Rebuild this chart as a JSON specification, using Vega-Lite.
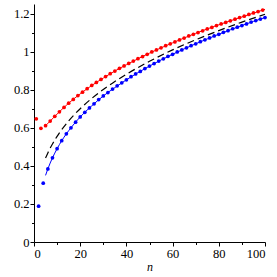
{
  "$schema": "https://vega.github.io/schema/vega-lite/v6.json",
  "width": 231,
  "height": 238,
  "autosize": "none",
  "padding": {"left": 34, "top": 4, "right": 12, "bottom": 35},
  "background": "white",
  "config": {
    "font": "Liberation Serif",
    "view": {"stroke": null},
    "axis": {"grid": false, "domainColor": "black", "tickColor": "black", "labelColor": "black", "titleColor": "black", "labelFont": "Liberation Serif", "titleFont": "Liberation Serif", "labelFontSize": 12.5, "domainWidth": 1, "tickWidth": 1}
  },
  "datasets": {
    "pts": [
      {"n":1,"y":0.647,"s":"odd"},{"n":3,"y":0.597,"s":"odd"},{"n":5,"y":0.611,"s":"odd"},{"n":7,"y":0.635,"s":"odd"},{"n":9,"y":0.660,"s":"odd"},
      {"n":11,"y":0.684,"s":"odd"},{"n":13,"y":0.707,"s":"odd"},{"n":15,"y":0.729,"s":"odd"},{"n":17,"y":0.749,"s":"odd"},{"n":19,"y":0.769,"s":"odd"},
      {"n":21,"y":0.787,"s":"odd"},{"n":23,"y":0.805,"s":"odd"},{"n":25,"y":0.822,"s":"odd"},{"n":27,"y":0.838,"s":"odd"},{"n":29,"y":0.854,"s":"odd"},
      {"n":31,"y":0.869,"s":"odd"},{"n":33,"y":0.884,"s":"odd"},{"n":35,"y":0.898,"s":"odd"},{"n":37,"y":0.912,"s":"odd"},{"n":39,"y":0.925,"s":"odd"},
      {"n":41,"y":0.938,"s":"odd"},{"n":43,"y":0.950,"s":"odd"},{"n":45,"y":0.963,"s":"odd"},{"n":47,"y":0.974,"s":"odd"},{"n":49,"y":0.986,"s":"odd"},
      {"n":51,"y":0.998,"s":"odd"},{"n":53,"y":1.009,"s":"odd"},{"n":55,"y":1.020,"s":"odd"},{"n":57,"y":1.031,"s":"odd"},{"n":59,"y":1.041,"s":"odd"},
      {"n":61,"y":1.051,"s":"odd"},{"n":63,"y":1.061,"s":"odd"},{"n":65,"y":1.071,"s":"odd"},{"n":67,"y":1.082,"s":"odd"},{"n":69,"y":1.091,"s":"odd"},
      {"n":71,"y":1.100,"s":"odd"},{"n":73,"y":1.109,"s":"odd"},{"n":75,"y":1.119,"s":"odd"},{"n":77,"y":1.127,"s":"odd"},{"n":79,"y":1.137,"s":"odd"},
      {"n":81,"y":1.145,"s":"odd"},{"n":83,"y":1.153,"s":"odd"},{"n":85,"y":1.162,"s":"odd"},{"n":87,"y":1.170,"s":"odd"},{"n":89,"y":1.179,"s":"odd"},
      {"n":91,"y":1.186,"s":"odd"},{"n":93,"y":1.195,"s":"odd"},{"n":95,"y":1.203,"s":"odd"},{"n":97,"y":1.210,"s":"odd"},{"n":99,"y":1.218,"s":"odd"},
      {"n":2,"y":0.188,"s":"even"},{"n":4,"y":0.309,"s":"even"},{"n":6,"y":0.384,"s":"even"},{"n":8,"y":0.442,"s":"even"},{"n":10,"y":0.490,"s":"even"},
      {"n":12,"y":0.532,"s":"even"},{"n":14,"y":0.568,"s":"even"},{"n":16,"y":0.600,"s":"even"},{"n":18,"y":0.629,"s":"even"},{"n":20,"y":0.657,"s":"even"},
      {"n":22,"y":0.681,"s":"even"},{"n":24,"y":0.704,"s":"even"},{"n":26,"y":0.726,"s":"even"},{"n":28,"y":0.748,"s":"even"},{"n":30,"y":0.767,"s":"even"},
      {"n":32,"y":0.785,"s":"even"},{"n":34,"y":0.803,"s":"even"},{"n":36,"y":0.820,"s":"even"},{"n":38,"y":0.836,"s":"even"},{"n":40,"y":0.852,"s":"even"},
      {"n":42,"y":0.868,"s":"even"},{"n":44,"y":0.883,"s":"even"},{"n":46,"y":0.896,"s":"even"},{"n":48,"y":0.911,"s":"even"},{"n":50,"y":0.924,"s":"even"},
      {"n":52,"y":0.937,"s":"even"},{"n":54,"y":0.950,"s":"even"},{"n":56,"y":0.962,"s":"even"},{"n":58,"y":0.975,"s":"even"},{"n":60,"y":0.986,"s":"even"},
      {"n":62,"y":0.998,"s":"even"},{"n":64,"y":1.009,"s":"even"},{"n":66,"y":1.020,"s":"even"},{"n":68,"y":1.031,"s":"even"},{"n":70,"y":1.041,"s":"even"},
      {"n":72,"y":1.052,"s":"even"},{"n":74,"y":1.062,"s":"even"},{"n":76,"y":1.072,"s":"even"},{"n":78,"y":1.082,"s":"even"},{"n":80,"y":1.091,"s":"even"},
      {"n":82,"y":1.101,"s":"even"},{"n":84,"y":1.110,"s":"even"},{"n":86,"y":1.120,"s":"even"},{"n":88,"y":1.128,"s":"even"},{"n":90,"y":1.137,"s":"even"},
      {"n":92,"y":1.145,"s":"even"},{"n":94,"y":1.155,"s":"even"},{"n":96,"y":1.163,"s":"even"},{"n":98,"y":1.171,"s":"even"},{"n":100,"y":1.179,"s":"even"}
    ],
    "lines": [
      {"n":5,"y":0.611,"s":"red"},{"n":7,"y":0.635,"s":"red"},{"n":9,"y":0.660,"s":"red"},{"n":11,"y":0.684,"s":"red"},{"n":13,"y":0.707,"s":"red"},{"n":15,"y":0.729,"s":"red"},{"n":20,"y":0.778,"s":"red"},{"n":25,"y":0.822,"s":"red"},{"n":30,"y":0.861,"s":"red"},{"n":35,"y":0.898,"s":"red"},{"n":40,"y":0.931,"s":"red"},{"n":50,"y":0.992,"s":"red"},{"n":60,"y":1.046,"s":"red"},{"n":70,"y":1.096,"s":"red"},{"n":80,"y":1.141,"s":"red"},{"n":90,"y":1.182,"s":"red"},{"n":100,"y":1.222,"s":"red"},
      {"n":5,"y":0.350,"s":"blue"},{"n":6,"y":0.384,"s":"blue"},{"n":8,"y":0.442,"s":"blue"},{"n":10,"y":0.490,"s":"blue"},{"n":12,"y":0.532,"s":"blue"},{"n":14,"y":0.568,"s":"blue"},{"n":16,"y":0.600,"s":"blue"},{"n":20,"y":0.657,"s":"blue"},{"n":25,"y":0.715,"s":"blue"},{"n":30,"y":0.767,"s":"blue"},{"n":35,"y":0.811,"s":"blue"},{"n":40,"y":0.852,"s":"blue"},{"n":50,"y":0.924,"s":"blue"},{"n":60,"y":0.986,"s":"blue"},{"n":70,"y":1.041,"s":"blue"},{"n":80,"y":1.091,"s":"blue"},{"n":90,"y":1.137,"s":"blue"},{"n":100,"y":1.179,"s":"blue"},
      {"n":5,"y":0.441,"s":"dash"},{"n":6,"y":0.468,"s":"dash"},{"n":7,"y":0.493,"s":"dash"},{"n":8,"y":0.515,"s":"dash"},{"n":10,"y":0.555,"s":"dash"},{"n":12,"y":0.590,"s":"dash"},{"n":15,"y":0.636,"s":"dash"},{"n":20,"y":0.700,"s":"dash"},{"n":25,"y":0.754,"s":"dash"},{"n":30,"y":0.801,"s":"dash"},{"n":35,"y":0.843,"s":"dash"},{"n":40,"y":0.881,"s":"dash"},{"n":50,"y":0.949,"s":"dash"},{"n":60,"y":1.009,"s":"dash"},{"n":70,"y":1.062,"s":"dash"},{"n":80,"y":1.110,"s":"dash"},{"n":90,"y":1.155,"s":"dash"},{"n":100,"y":1.196,"s":"dash"}
    ]
  },
  "encoding": {
    "x": {"field": "n", "type": "quantitative", "scale": {"domain": [0, 100], "nice": false},
      "axis": {"values": [0,10,20,30,40,50,60,70,80,90,100], "labelExpr": "datum.value % 20 == 0 ? datum.label : ''",
        "tickSize": {"condition": {"test": "datum.value % 20 == 0", "value": 4}, "value": 2.5},
        "labelPadding": 1, "title": "n", "titleFontStyle": "italic", "titleFontWeight": "normal", "titleFontSize": 12, "titlePadding": 2}},
    "y": {"field": "y", "type": "quantitative", "scale": {"domain": [0, 1.25], "nice": false},
      "axis": {"values": [0,0.1,0.2,0.3,0.4,0.5,0.6,0.7,0.8,0.9,1,1.1,1.2], "labelExpr": "round(datum.value*10) % 2 == 0 ? format(datum.value, '~g') : ''",
        "tickSize": {"condition": {"test": "round(datum.value*10) % 2 == 0", "value": 4}, "value": 2.5},
        "labelPadding": 1, "title": null}}
  },
  "layer": [
    {"data": {"name": "lines"}, "transform": [{"filter": "datum.s != 'dash'"}],
      "mark": {"type": "line", "strokeWidth": 1, "interpolate": "monotone"},
      "encoding": {"detail": {"field": "s"}, "color": {"field": "s", "type": "nominal", "scale": {"domain": ["red", "blue"], "range": ["#ff0000", "#0000ff"]}, "legend": null}}},
    {"data": {"name": "lines"}, "transform": [{"filter": "datum.s == 'dash'"}],
      "mark": {"type": "line", "strokeWidth": 1.2, "interpolate": "monotone", "color": "black", "strokeDash": [7, 4]}},
    {"data": {"name": "pts"},
      "mark": {"type": "circle", "size": 14, "opacity": 1},
      "encoding": {"color": {"field": "s", "type": "nominal", "scale": {"domain": ["odd", "even"], "range": ["#ff0000", "#0000ff"]}, "legend": null}}}
  ],
  "resolve": {"scale": {"color": "independent"}}
}
